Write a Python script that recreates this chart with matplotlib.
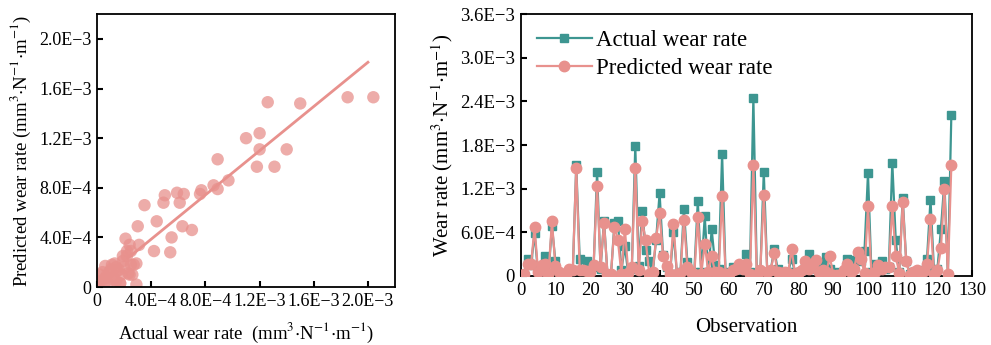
import numpy as np
import matplotlib
matplotlib.use("Agg")
import matplotlib.pyplot as plt
from matplotlib.ticker import FuncFormatter

plt.rcParams["font.family"] = ["Liberation Serif", "DejaVu Serif"]
plt.rcParams["mathtext.fontset"] = "stix"

# wear rates in units of 1E-3 mm3/(N m)
actual = [
    0.02, 0.23, 0.15, 0.59, 0.04, 0.13, 0.27, 0.02, 0.69, 0.20,
    0.04, 0.02, 0.01, 0.06, 0.05, 1.52, 0.23, 0.05, 0.21, 0.03,
    0.12, 1.43, 0.10, 0.76, 0.02, 0.01, 0.73, 0.75, 0.08, 0.41,
    0.02, 0.10, 1.79, 0.14, 0.89, 0.36, 0.20, 0.04, 0.50, 1.14,
    0.29, 0.12, 0.03, 0.60, 0.03, 0.05, 0.92, 0.19, 0.04, 0.06,
    1.03, 0.05, 0.82, 0.04, 0.64, 0.15, 0.10, 1.68, 0.03, 0.05,
    0.13, 0.06, 0.08, 0.12, 0.30, 0.05, 2.45, 0.03, 0.05, 1.43,
    0.06, 0.08, 0.37, 0.09, 0.06, 0.04, 0.05, 0.24, 0.05, 0.03,
    0.05, 0.15, 0.30, 0.10, 0.18, 0.06, 0.15, 0.26, 0.10, 0.04,
    0.06, 0.03, 0.05, 0.24, 0.10, 0.22, 0.25, 0.20, 0.35, 1.41,
    0.05, 0.17, 0.12, 0.20, 0.10, 0.12, 1.56, 0.49, 0.06, 1.07,
    0.21, 0.03, 0.05, 0.06, 0.05, 0.08, 0.24, 1.05, 0.08, 0.10,
    0.64, 1.30, 0.02, 2.21,
]
predicted = [
    0.03, 0.17, 0.16, 0.67, 0.06, 0.15, 0.16, 0.03, 0.75, 0.14,
    0.06, 0.02, 0.01, 0.09, 0.08, 1.49, 0.08, 0.08, 0.07, 0.05,
    0.15, 1.24, 0.13, 0.73, 0.03, 0.03, 0.68, 0.49, 0.03, 0.65,
    0.04, 0.13, 1.49, 0.08, 0.75, 0.49, 0.03, 0.06, 0.52, 0.86,
    0.27, 0.14, 0.03, 0.72, 0.03, 0.04, 0.77, 0.13, 0.05, 0.03,
    0.81, 0.03, 0.44, 0.06, 0.27, 0.05, 0.05, 1.10, 0.03, 0.03,
    0.08, 0.10, 0.17, 0.10, 0.17, 0.03, 1.52, 0.02, 0.08, 1.11,
    0.05, 0.08, 0.32, 0.05, 0.04, 0.05, 0.04, 0.37, 0.03, 0.05,
    0.08, 0.21, 0.10, 0.15, 0.22, 0.05, 0.08, 0.05, 0.27, 0.02,
    0.02, 0.02, 0.08, 0.17, 0.05, 0.10, 0.33, 0.24, 0.04, 0.96,
    0.02, 0.05, 0.15, 0.10, 0.13, 0.12, 0.96, 0.27, 0.04, 1.02,
    0.20, 0.02, 0.06, 0.08, 0.05, 0.07, 0.17, 0.78, 0.03, 0.08,
    0.38, 1.20, 0.03, 1.52,
]
observation = np.arange(1, len(actual) + 1)

# scatter of actual vs predicted (1E-3 units)
scatter_actual = [
    2.04, 1.85, 1.50, 1.26, 1.10, 1.20, 1.20, 1.40, 1.18, 1.31,
    0.89, 0.97, 0.86, 0.89, 0.77, 0.76, 0.59, 0.64, 0.50, 0.49,
    0.61, 0.35, 0.44, 0.63, 0.70, 0.30, 0.55, 0.42, 0.54, 0.21,
    0.31, 0.24, 0.22, 0.25, 0.19, 0.29, 0.25, 0.23, 0.26, 0.29,
    0.17, 0.06, 0.11, 0.14, 0.02, 0.06, 0.09, 0.12, 0.18, 0.01,
    0.03, 0.08, 0.17, 0.19, 0.22, 0.27, 0.24, 0.16, 0.13, 0.04,
    0.10, 0.15, 0.20, 0.07, 0.12, 0.00, 0.05, 0.14,
]
scatter_pred = [
    1.53, 1.53, 1.48, 1.49, 1.20, 1.24, 1.11, 1.11, 0.97, 0.97,
    1.03, 0.86, 0.82, 0.79, 0.78, 0.75, 0.76, 0.75, 0.74, 0.68,
    0.68, 0.66, 0.53, 0.49, 0.46, 0.49, 0.40, 0.29, 0.28, 0.39,
    0.34, 0.34, 0.29, 0.29, 0.25, 0.19, 0.18, 0.11, 0.10, 0.02,
    0.03, 0.17, 0.18, 0.16, 0.10, 0.07, 0.12, 0.08, 0.10, 0.04,
    0.05, 0.03, 0.03, 0.21, 0.25, 0.18, 0.10, 0.14, 0.19, 0.12,
    0.14, 0.13, 0.16, 0.09, 0.06, 0.02, 0.01, 0.05,
]
fit_slope = 0.891
fit_intercept = 0.03
fit_range = [0.23, 2.0]

teal = "#3d9691"
pink = "#e8918d"


def sci_fmt(v, pos):
    if abs(v) < 1e-12:
        return "0"
    s = f"{v:.1E}"
    mant, ex = s.split("E")
    return f"{mant}E\u2212{abs(int(ex))}" if int(ex) < 0 else f"{mant}E{int(ex)}"


def style_axes(ax, size=13.5):
    for sp in ax.spines.values():
        sp.set_linewidth(1.3)
    ax.tick_params(direction="in", length=4, width=1.5, labelsize=size, pad=4)
    ax.xaxis.set_major_formatter(FuncFormatter(sci_fmt))
    ax.yaxis.set_major_formatter(FuncFormatter(sci_fmt))


unit = r"(mm$^{3}$$\cdot$N$^{-1}$$\cdot$m$^{-1}$)"
fig = plt.figure(figsize=(9.91, 3.45), dpi=100)

ax1 = fig.add_axes([0.098, 0.168, 0.3006, 0.791])
sa = np.array(scatter_actual) * 1e-3
sp_ = np.array(scatter_pred) * 1e-3
ax1.scatter(sa, sp_, s=80, color=pink, alpha=0.75, edgecolors="none", zorder=2)
fx = np.array(fit_range) * 1e-3
ax1.plot(fx, fit_slope * fx + fit_intercept * 1e-3, color=pink, lw=2, zorder=3)
ax1.set_xlim(0, 2.2e-3)
ax1.set_ylim(0, 2.2e-3)
ax1.set_xticks(np.arange(0, 2.01e-3, 0.4e-3))
ax1.set_yticks(np.arange(0, 2.01e-3, 0.4e-3))
style_axes(ax1, 13)
ax1.set_xlabel("Actual wear rate  " + unit, fontsize=13.5, labelpad=8)
ax1.set_ylabel("Predicted wear rate " + unit, fontsize=13.5, labelpad=4)

ax2 = fig.add_axes([0.5254, 0.2, 0.4556, 0.759])
ax2.plot(observation, np.array(actual) * 1e-3, color=teal, lw=1.6, marker="s",
         markersize=6, label="Actual wear rate", zorder=2)
ax2.plot(observation, np.array(predicted) * 1e-3, color=pink, lw=1.6, marker="o",
         markersize=7.5, label="Predicted wear rate", zorder=3)
ax2.set_xlim(0, 130)
ax2.set_ylim(0, 3.6e-3)
ax2.set_xticks(np.arange(0, 131, 10))
ax2.set_yticks(np.arange(0, 3.61e-3, 0.6e-3))
style_axes(ax2)
ax2.xaxis.set_major_formatter(FuncFormatter(lambda v, p: f"{int(v)}"))
ax2.set_xlabel("Observation", fontsize=15, labelpad=14)
ax2.set_ylabel("Wear rate " + unit, fontsize=15, labelpad=4)
ax2.legend(loc="upper left", frameon=False, fontsize=16.5, handlelength=2.4,
           handletextpad=0.2, borderaxespad=0.3, labelspacing=0.3)

fig.savefig("out.png", dpi=100)
